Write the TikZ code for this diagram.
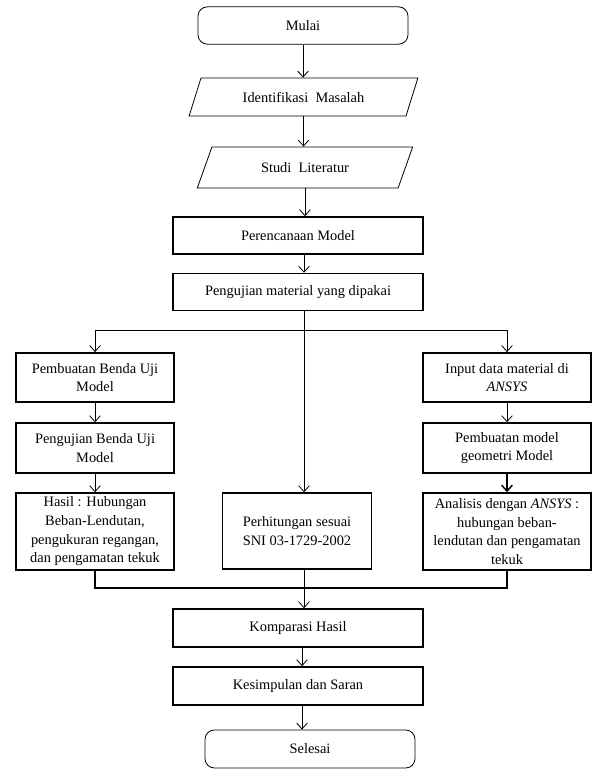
\documentclass[tikz,border=0pt]{standalone}
\usepackage{fontspec}
\setmainfont{Liberation Serif}
\usetikzlibrary{shapes.geometric,arrows.meta}

\begin{document}
\begin{tikzpicture}[x=0.75pt,y=-0.75pt,
    every node/.style={font=\fontsize{10.8}{14}\selectfont, align=center, inner sep=1.5pt},
    box/.style={draw, line width=1.1pt},
    terminal/.style={draw, line width=0.6pt, rounded corners=7pt, minimum width=157.5pt, minimum height=28pt},
    io/.style={draw, line width=0.6pt, trapezium, trapezium left angle=63, trapezium right angle=117, trapezium stretches=true},
    arr/.style={-{Straight Barb[length=4.5pt,width=8pt]}, line width=0.6pt}]
      \useasboundingbox (0,0) rectangle (592,769);

      % Main column
      \node[terminal] (mulai) at (303,25.5) {Mulai};
      \node[io, minimum width=171.75pt, minimum height=28.5pt] (ident) at (303.5,97) {Identifikasi\ \ Masalah};
      \node[io, minimum width=162pt, minimum height=30.75pt] (studi) at (305,167.5) {Studi\ \ Literatur};
      \node[box, minimum width=187.5pt, minimum height=27.75pt] (rencana) at (298,235.5) {Perencanaan Model};
      \node[box, minimum width=187.5pt, minimum height=27.75pt] (ujimat) at (298,292) {Pengujian material yang dipakai};

      % Left branch: laboratory test
      \node[box, minimum width=118.5pt, minimum height=37pt] (bendauji) at (95,377.5) {Pembuatan Benda Uji\\Model};
      \node[box, minimum width=118.5pt, minimum height=37.5pt] (ujibenda) at (95,448) {Pengujian Benda Uji\\Model};
      \node[box, minimum width=118.5pt, minimum height=57.75pt] (hasil) at (95,531.5) {Hasil : Hubungan\\Beban-Lendutan,\\pengukuran regangan,\\dan pengamatan tekuk};

      % Middle branch: code check
      \node[box, minimum width=111.75pt, minimum height=57pt] (hitung) at (297,531) {Perhitungan sesuai\\SNI 03-1729-2002};

      % Right branch: finite element
      \node[box, minimum width=126pt, minimum height=37pt] (input) at (507,377.5) {Input data material di\\\textit{ANSYS}};
      \node[box, minimum width=126pt, minimum height=37.5pt] (geometri) at (507,448) {Pembuatan model\\geometri Model};
      \node[box, minimum width=126pt, minimum height=57.75pt] (analisis) at (507,531.5) {Analisis dengan \textit{ANSYS} :\\hubungan beban-\\lendutan dan pengamatan\\tekuk};

      % Closing column
      \node[box, minimum width=187.5pt, minimum height=28.5pt] (komparasi) at (298,628) {Komparasi Hasil};
      \node[box, minimum width=187.5pt, minimum height=28.5pt] (simpulan) at (298,686) {Kesimpulan dan Saran};
      \node[terminal, minimum height=28.5pt] (selesai) at (310,749) {Selesai};

      % Helper points
      \coordinate (axis) at (304,0);
      \coordinate (split) at (304,330);
      \coordinate (merge) at (304,588);

      % Arrows down the main column
      \draw[arr] (mulai.south) -- (mulai.south |- ident.north);
      \draw[arr] (ident.south) -- (ident.south |- studi.north);
      \draw[arr] (studi.south) -- (studi.south |- rencana.north);
      \draw[arr] (axis |- rencana.south) -- (axis |- ujimat.north);

      % Split into three branches
      \draw[arr] (axis |- ujimat.south) -- (axis |- hitung.north);
      \draw[arr] (split) -| (bendauji.north);
      \draw[arr] (split) -| (input.north);
      \draw[arr] (bendauji) -- (ujibenda);
      \draw[arr] (ujibenda) -- (hasil);
      \draw[arr] (input) -- (geometri);
      \draw[arr, line width=1.1pt] (geometri) -- (analisis);

      % Join the branches
      \draw[line width=1.1pt] (hasil.south) |- (merge) -| (analisis.south);
      \draw[arr] (axis |- hitung.south) -- (axis |- komparasi.north);
      \draw[arr] ([xshift=3pt]komparasi.south) -- ([xshift=3pt]komparasi.south |- simpulan.north);
      \draw[arr] ([xshift=3pt]simpulan.south) -- ([xshift=3pt]simpulan.south |- selesai.north);
    \end{tikzpicture}
\end{document}
